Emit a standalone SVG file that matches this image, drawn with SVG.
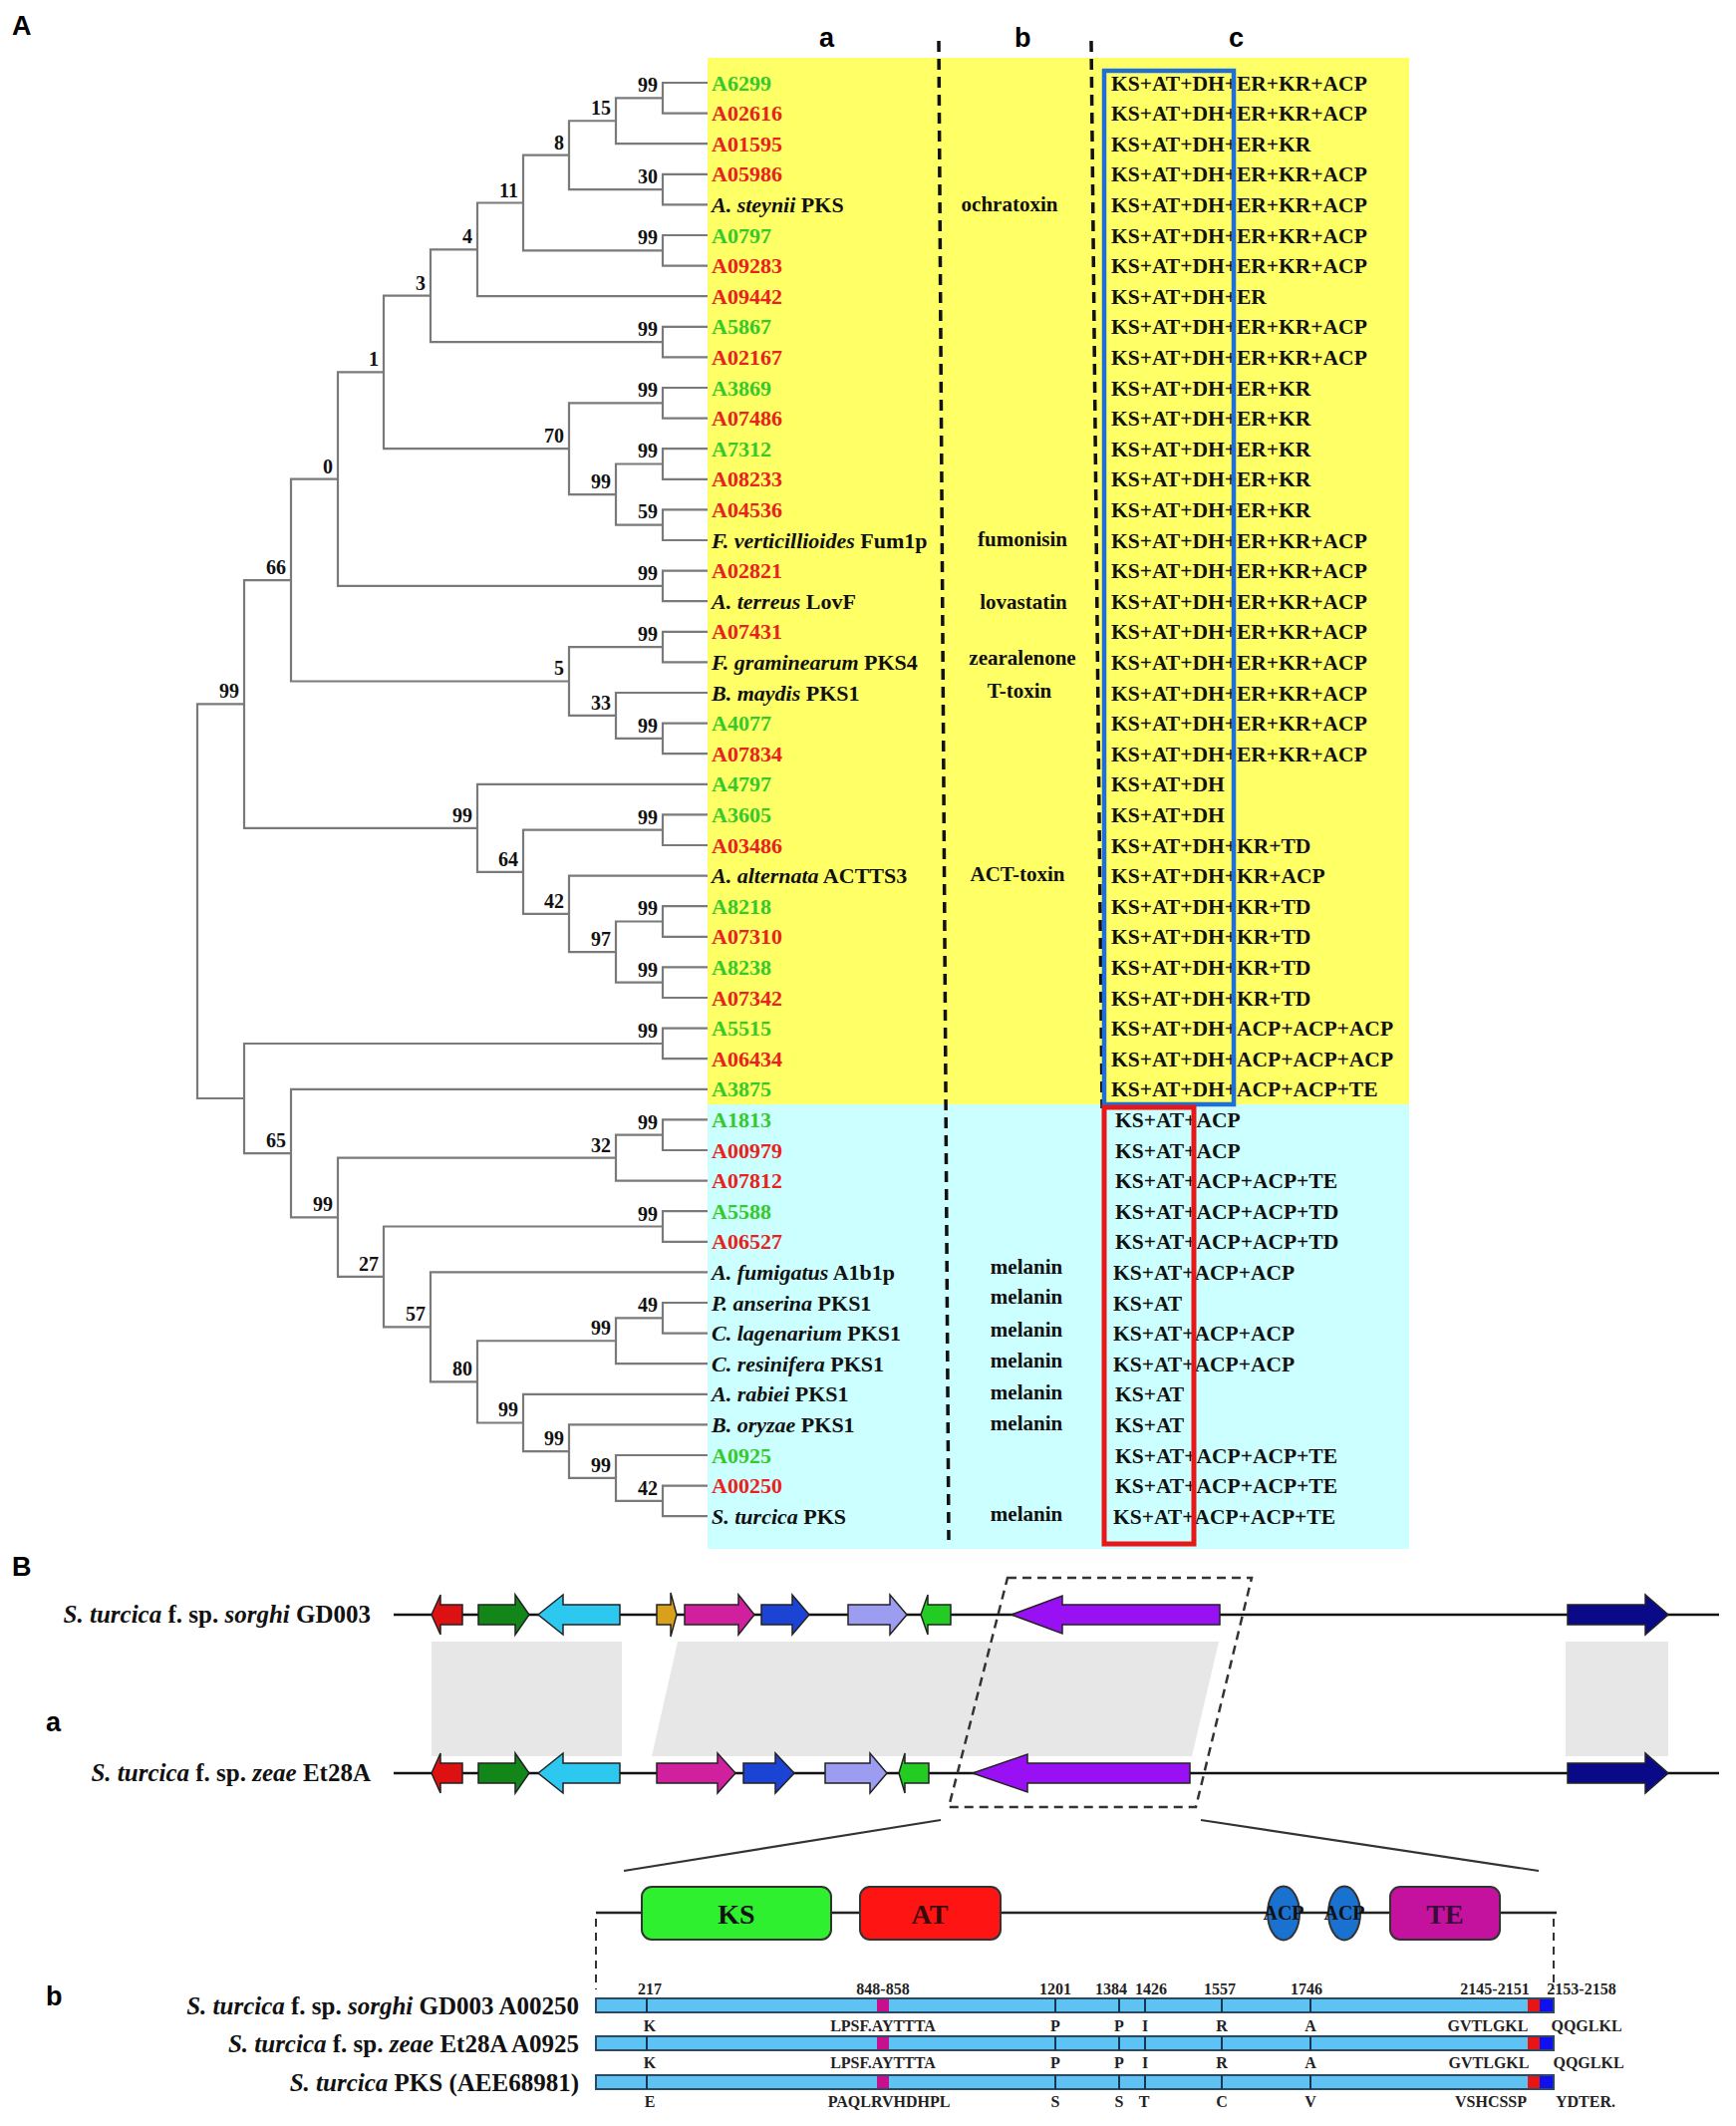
<svg xmlns="http://www.w3.org/2000/svg" width="1742" height="2133" viewBox="0 0 1742 2133">
<style>
.panel{font-family:"Liberation Sans",Arial,sans-serif;font-weight:bold;font-size:27px;fill:#000}
.tr{fill:none;stroke:#7a7a7a;stroke-width:2.2}
.bs{font-family:"Liberation Serif","Times New Roman",serif;font-weight:bold;font-size:20px;fill:#111;text-anchor:end}
.lf{font-family:"Liberation Serif","Times New Roman",serif;font-weight:bold;font-size:22px;fill:#111}
.g{fill:#36c92c}
.r{fill:#e8231d}
.cc{font-family:"Liberation Serif","Times New Roman",serif;font-weight:bold;font-size:21.5px;fill:#111}
.cb{font-family:"Liberation Serif","Times New Roman",serif;font-weight:bold;font-size:21px;fill:#111;text-anchor:middle}
.dash{stroke:#111;stroke-width:3.5;stroke-dasharray:11 7;fill:none}
.gene{stroke:#222;stroke-width:1.5}
.band{fill:#e7e7e7}
.dom{stroke:#333;stroke-width:2}
.dt{font-family:"Liberation Serif","Times New Roman",serif;font-weight:bold;font-size:28px;text-anchor:middle}
.sl{font-family:"Liberation Serif","Times New Roman",serif;font-weight:bold;font-size:25px;fill:#111;text-anchor:end}
.pn{font-family:"Liberation Serif","Times New Roman",serif;font-weight:bold;font-size:16px;fill:#222;text-anchor:middle}
.bar{fill:#5ec3f2;stroke:#2a4a66;stroke-width:2}
.tick{stroke:#1a3550;stroke-width:2}
</style>

<text class="panel" x="12" y="35">A</text>
<text class="panel" x="822" y="47">a</text>
<text class="panel" x="1018" y="47">b</text>
<text class="panel" x="1233" y="47">c</text>

<g id="backgrounds">
<rect x="710" y="58" width="704" height="1050" fill="#ffff66"/>
<rect x="710" y="1108" width="704" height="446" fill="#ccffff"/>
</g>

<g id="tree-connectors">
<path class="tr" d="M710 83 H665 V113.6 H710"/>
<path class="tr" d="M665 98.3 H618 V144.2 H710"/>
<path class="tr" d="M710 174.8 H665 V205.4 H710"/>
<path class="tr" d="M618 121.25 H571 V190.1 H665"/>
<path class="tr" d="M710 236 H665 V266.6 H710"/>
<path class="tr" d="M571 155.7 H525 V251.3 H665"/>
<path class="tr" d="M525 203.5 H479 V297.2 H710"/>
<path class="tr" d="M710 327.8 H665 V358.4 H710"/>
<path class="tr" d="M479 250.35 H432 V343.1 H665"/>
<path class="tr" d="M710 389 H665 V419.6 H710"/>
<path class="tr" d="M710 450.2 H665 V480.8 H710"/>
<path class="tr" d="M710 511.4 H665 V542 H710"/>
<path class="tr" d="M665 465.5 H618 V526.7 H665"/>
<path class="tr" d="M665 404.3 H571 V496.1 H618"/>
<path class="tr" d="M432 296.7 H385 V450.2 H571"/>
<path class="tr" d="M710 572.6 H665 V603.2 H710"/>
<path class="tr" d="M385 373.45 H339 V587.9 H665"/>
<path class="tr" d="M710 633.8 H665 V664.4 H710"/>
<path class="tr" d="M710 725.6 H665 V756.2 H710"/>
<path class="tr" d="M710 695 H618 V740.9 H665"/>
<path class="tr" d="M665 649.1 H571 V717.95 H618"/>
<path class="tr" d="M339 480.7 H292 V683.5 H571"/>
<path class="tr" d="M710 817.4 H665 V848 H710"/>
<path class="tr" d="M710 909.2 H665 V939.8 H710"/>
<path class="tr" d="M710 970.4 H665 V1001 H710"/>
<path class="tr" d="M665 924.5 H618 V985.7 H665"/>
<path class="tr" d="M710 878.6 H571 V955.1 H618"/>
<path class="tr" d="M665 832.7 H525 V916.85 H571"/>
<path class="tr" d="M710 786.8 H479 V874.8 H525"/>
<path class="tr" d="M292 582.1 H245 V830.8 H479"/>
<path class="tr" d="M710 1031.6 H665 V1062.2 H710"/>
<path class="tr" d="M710 1123.4 H665 V1154 H710"/>
<path class="tr" d="M665 1138.7 H618 V1184.6 H710"/>
<path class="tr" d="M710 1215.2 H665 V1245.8 H710"/>
<path class="tr" d="M710 1307 H665 V1337.6 H710"/>
<path class="tr" d="M665 1322.3 H618 V1368.2 H710"/>
<path class="tr" d="M710 1490.6 H665 V1521.2 H710"/>
<path class="tr" d="M710 1460 H618 V1505.9 H665"/>
<path class="tr" d="M710 1429.4 H571 V1482.95 H618"/>
<path class="tr" d="M710 1398.8 H525 V1456.2 H571"/>
<path class="tr" d="M618 1345.25 H479 V1427.5 H525"/>
<path class="tr" d="M710 1276.4 H432 V1386.4 H479"/>
<path class="tr" d="M665 1230.5 H385 V1331.4 H432"/>
<path class="tr" d="M618 1161.65 H339 V1280.95 H385"/>
<path class="tr" d="M710 1092.8 H292 V1221.3 H339"/>
<path class="tr" d="M665 1047 H245 V1157.05 H292"/>
<path class="tr" d="M245 706.45 H198 V1102 H245"/>
</g>

<g id="bootstrap">
<text class="bs" x="660" y="92">99</text>
<text class="bs" x="613" y="115">15</text>
<text class="bs" x="660" y="184">30</text>
<text class="bs" x="566" y="150">8</text>
<text class="bs" x="660" y="245">99</text>
<text class="bs" x="520" y="198">11</text>
<text class="bs" x="474" y="244">4</text>
<text class="bs" x="660" y="337">99</text>
<text class="bs" x="427" y="291">3</text>
<text class="bs" x="660" y="398">99</text>
<text class="bs" x="660" y="459">99</text>
<text class="bs" x="660" y="520">59</text>
<text class="bs" x="613" y="490">99</text>
<text class="bs" x="566" y="444">70</text>
<text class="bs" x="380" y="367">1</text>
<text class="bs" x="660" y="582">99</text>
<text class="bs" x="334" y="475">0</text>
<text class="bs" x="660" y="643">99</text>
<text class="bs" x="660" y="735">99</text>
<text class="bs" x="613" y="712">33</text>
<text class="bs" x="566" y="677">5</text>
<text class="bs" x="287" y="576">66</text>
<text class="bs" x="660" y="827">99</text>
<text class="bs" x="660" y="918">99</text>
<text class="bs" x="660" y="980">99</text>
<text class="bs" x="613" y="949">97</text>
<text class="bs" x="566" y="911">42</text>
<text class="bs" x="520" y="869">64</text>
<text class="bs" x="474" y="825">99</text>
<text class="bs" x="240" y="700">99</text>
<text class="bs" x="660" y="1041">99</text>
<text class="bs" x="660" y="1133">99</text>
<text class="bs" x="613" y="1156">32</text>
<text class="bs" x="660" y="1225">99</text>
<text class="bs" x="660" y="1316">49</text>
<text class="bs" x="613" y="1339">99</text>
<text class="bs" x="660" y="1500">42</text>
<text class="bs" x="613" y="1477">99</text>
<text class="bs" x="566" y="1450">99</text>
<text class="bs" x="520" y="1421">99</text>
<text class="bs" x="474" y="1380">80</text>
<text class="bs" x="427" y="1325">57</text>
<text class="bs" x="380" y="1275">27</text>
<text class="bs" x="334" y="1215">99</text>
<text class="bs" x="287" y="1151">65</text>
</g>

<g id="leaves" class="lf">
<text x="714" y="90.5" class="g">A6299</text>
<text x="714" y="121.1" class="r">A02616</text>
<text x="714" y="151.7" class="r">A01595</text>
<text x="714" y="182.3" class="r">A05986</text>
<text x="714" y="212.9"><tspan font-style="italic">A. steynii</tspan> PKS</text>
<text x="714" y="243.5" class="g">A0797</text>
<text x="714" y="274.1" class="r">A09283</text>
<text x="714" y="304.7" class="r">A09442</text>
<text x="714" y="335.3" class="g">A5867</text>
<text x="714" y="365.9" class="r">A02167</text>
<text x="714" y="396.5" class="g">A3869</text>
<text x="714" y="427.1" class="r">A07486</text>
<text x="714" y="457.7" class="g">A7312</text>
<text x="714" y="488.3" class="r">A08233</text>
<text x="714" y="518.9" class="r">A04536</text>
<text x="714" y="549.5"><tspan font-style="italic">F. verticillioides</tspan> Fum1p</text>
<text x="714" y="580.1" class="r">A02821</text>
<text x="714" y="610.7"><tspan font-style="italic">A. terreus</tspan> LovF</text>
<text x="714" y="641.3" class="r">A07431</text>
<text x="714" y="671.9"><tspan font-style="italic">F. graminearum</tspan> PKS4</text>
<text x="714" y="702.5"><tspan font-style="italic">B. maydis</tspan> PKS1</text>
<text x="714" y="733.1" class="g">A4077</text>
<text x="714" y="763.7" class="r">A07834</text>
<text x="714" y="794.3" class="g">A4797</text>
<text x="714" y="824.9" class="g">A3605</text>
<text x="714" y="855.5" class="r">A03486</text>
<text x="714" y="886.1"><tspan font-style="italic">A. alternata</tspan> ACTTS3</text>
<text x="714" y="916.7" class="g">A8218</text>
<text x="714" y="947.3" class="r">A07310</text>
<text x="714" y="977.9" class="g">A8238</text>
<text x="714" y="1008.5" class="r">A07342</text>
<text x="714" y="1039.1" class="g">A5515</text>
<text x="714" y="1069.7" class="r">A06434</text>
<text x="714" y="1100.3" class="g">A3875</text>
<text x="714" y="1130.9" class="g">A1813</text>
<text x="714" y="1161.5" class="r">A00979</text>
<text x="714" y="1192.1" class="r">A07812</text>
<text x="714" y="1222.7" class="g">A5588</text>
<text x="714" y="1253.3" class="r">A06527</text>
<text x="714" y="1283.9"><tspan font-style="italic">A. fumigatus</tspan> A1b1p</text>
<text x="714" y="1314.5"><tspan font-style="italic">P. anserina</tspan> PKS1</text>
<text x="714" y="1345.1"><tspan font-style="italic">C. lagenarium</tspan> PKS1</text>
<text x="714" y="1375.7"><tspan font-style="italic">C. resinifera</tspan> PKS1</text>
<text x="714" y="1406.3"><tspan font-style="italic">A. rabiei</tspan> PKS1</text>
<text x="714" y="1436.9"><tspan font-style="italic">B. oryzae</tspan> PKS1</text>
<text x="714" y="1467.5" class="g">A0925</text>
<text x="714" y="1498.1" class="r">A00250</text>
<text x="714" y="1528.7"><tspan font-style="italic">S. turcica</tspan> PKS</text>
</g>

<g id="products">
<text class="cb" x="1013" y="212">ochratoxin</text>
<text class="cb" x="1026" y="548">fumonisin</text>
<text class="cb" x="1027" y="611">lovastatin</text>
<text class="cb" x="1026" y="667">zearalenone</text>
<text class="cb" x="1023" y="700">T-toxin</text>
<text class="cb" x="1021" y="884">ACT-toxin</text>
<text class="cb" x="1030" y="1278">melanin</text>
<text class="cb" x="1030" y="1308">melanin</text>
<text class="cb" x="1030" y="1341">melanin</text>
<text class="cb" x="1030" y="1372">melanin</text>
<text class="cb" x="1030" y="1404">melanin</text>
<text class="cb" x="1030" y="1435">melanin</text>
<text class="cb" x="1030" y="1526">melanin</text>
</g>

<g id="domains" class="cc">
<text x="1115" y="90.5">KS+AT+DH+ER+KR+ACP</text>
<text x="1115" y="121.1">KS+AT+DH+ER+KR+ACP</text>
<text x="1115" y="151.7">KS+AT+DH+ER+KR</text>
<text x="1115" y="182.3">KS+AT+DH+ER+KR+ACP</text>
<text x="1115" y="212.9">KS+AT+DH+ER+KR+ACP</text>
<text x="1115" y="243.5">KS+AT+DH+ER+KR+ACP</text>
<text x="1115" y="274.1">KS+AT+DH+ER+KR+ACP</text>
<text x="1115" y="304.7">KS+AT+DH+ER</text>
<text x="1115" y="335.3">KS+AT+DH+ER+KR+ACP</text>
<text x="1115" y="365.9">KS+AT+DH+ER+KR+ACP</text>
<text x="1115" y="396.5">KS+AT+DH+ER+KR</text>
<text x="1115" y="427.1">KS+AT+DH+ER+KR</text>
<text x="1115" y="457.7">KS+AT+DH+ER+KR</text>
<text x="1115" y="488.3">KS+AT+DH+ER+KR</text>
<text x="1115" y="518.9">KS+AT+DH+ER+KR</text>
<text x="1115" y="549.5">KS+AT+DH+ER+KR+ACP</text>
<text x="1115" y="580.1">KS+AT+DH+ER+KR+ACP</text>
<text x="1115" y="610.7">KS+AT+DH+ER+KR+ACP</text>
<text x="1115" y="641.3">KS+AT+DH+ER+KR+ACP</text>
<text x="1115" y="671.9">KS+AT+DH+ER+KR+ACP</text>
<text x="1115" y="702.5">KS+AT+DH+ER+KR+ACP</text>
<text x="1115" y="733.1">KS+AT+DH+ER+KR+ACP</text>
<text x="1115" y="763.7">KS+AT+DH+ER+KR+ACP</text>
<text x="1115" y="794.3">KS+AT+DH</text>
<text x="1115" y="824.9">KS+AT+DH</text>
<text x="1115" y="855.5">KS+AT+DH+KR+TD</text>
<text x="1115" y="886.1">KS+AT+DH+KR+ACP</text>
<text x="1115" y="916.7">KS+AT+DH+KR+TD</text>
<text x="1115" y="947.3">KS+AT+DH+KR+TD</text>
<text x="1115" y="977.9">KS+AT+DH+KR+TD</text>
<text x="1115" y="1008.5">KS+AT+DH+KR+TD</text>
<text x="1115" y="1039.1">KS+AT+DH+ACP+ACP+ACP</text>
<text x="1115" y="1069.7">KS+AT+DH+ACP+ACP+ACP</text>
<text x="1115" y="1100.3">KS+AT+DH+ACP+ACP+TE</text>
<text x="1119" y="1130.9">KS+AT+ACP</text>
<text x="1119" y="1161.5">KS+AT+ACP</text>
<text x="1119" y="1192.1">KS+AT+ACP+ACP+TE</text>
<text x="1119" y="1222.7">KS+AT+ACP+ACP+TD</text>
<text x="1119" y="1253.3">KS+AT+ACP+ACP+TD</text>
<text x="1117" y="1283.9">KS+AT+ACP+ACP</text>
<text x="1117" y="1314.5">KS+AT</text>
<text x="1117" y="1345.1">KS+AT+ACP+ACP</text>
<text x="1117" y="1375.7">KS+AT+ACP+ACP</text>
<text x="1119" y="1406.3">KS+AT</text>
<text x="1119" y="1436.9">KS+AT</text>
<text x="1119" y="1467.5">KS+AT+ACP+ACP+TE</text>
<text x="1119" y="1498.1">KS+AT+ACP+ACP+TE</text>
<text x="1117" y="1528.7">KS+AT+ACP+ACP+TE</text>
</g>

<g id="column-dividers">
<line class="dash" x1="942" y1="41" x2="952" y2="1545"/>
<line class="dash" x1="1095" y1="41" x2="1106" y2="1112"/>
</g>

<g id="highlight-boxes">
<rect x="1108" y="71" width="130" height="1037" fill="none" stroke="#1f6fd6" stroke-width="4.5"/>
<rect x="1108" y="1111" width="90" height="438" fill="none" stroke="#e81818" stroke-width="5"/>
</g>

<text class="panel" x="12" y="1581">B</text>
<text class="panel" x="46" y="1737">a</text>
<text class="panel" x="46" y="2012">b</text>

<g id="synteny-bands">
<rect class="band" x="433" y="1647" width="191" height="115"/>
<polygon class="band" points="680,1647 1223,1647 1196,1762 654,1762"/>
<rect class="band" x="1571" y="1647" width="103" height="115"/>
</g>

<g id="cluster-sorghi">
<text class="sl" x="372" y="1628"><tspan font-style="italic">S. turcica</tspan> f. sp. <tspan font-style="italic">sorghi</tspan> GD003</text>
<line x1="395" y1="1620" x2="1725" y2="1620" stroke="#111" stroke-width="2.5"/>
<polygon class="gene" fill="#dd1111" points="433,1620 442,1600 442,1610 464,1610 464,1630 442,1630 442,1640"/>
<polygon class="gene" fill="#13861a" points="480,1610 517,1610 517,1600 531,1620 517,1640 517,1630 480,1630"/>
<polygon class="gene" fill="#2cc8f0" points="540,1620 565,1600 565,1610 622,1610 622,1630 565,1630 565,1640"/>
<polygon class="gene" fill="#d9a01c" points="659,1610 673,1610 673,1598 679,1620 673,1642 673,1630 659,1630"/>
<polygon class="gene" fill="#d0209e" points="687,1610 741,1610 741,1600 757,1620 741,1640 741,1630 687,1630"/>
<polygon class="gene" fill="#1c44d4" points="764,1610 795,1610 795,1600 812,1620 795,1640 795,1630 764,1630"/>
<polygon class="gene" fill="#9c9cf0" points="851,1610 893,1610 893,1600 910,1620 893,1640 893,1630 851,1630"/>
<polygon class="gene" fill="#22cc22" points="924,1620 931,1600 931,1610 954,1610 954,1630 931,1630 931,1640"/>
<polygon class="gene" fill="#9a10f5" points="1015,1620 1066,1601 1066,1610 1224,1610 1224,1630 1066,1630 1066,1639"/>
<polygon class="gene" fill="#0a0a88" points="1573,1610 1651,1610 1651,1600 1674,1620 1651,1640 1651,1630 1573,1630"/>
</g>

<g id="cluster-zeae">
<text class="sl" x="372" y="1787"><tspan font-style="italic">S. turcica</tspan> f. sp. <tspan font-style="italic">zeae</tspan> Et28A</text>
<line x1="395" y1="1779" x2="1725" y2="1779" stroke="#111" stroke-width="2.5"/>
<polygon class="gene" fill="#dd1111" points="433,1779 442,1759 442,1769 464,1769 464,1789 442,1789 442,1799"/>
<polygon class="gene" fill="#13861a" points="480,1769 517,1769 517,1759 531,1779 517,1799 517,1789 480,1789"/>
<polygon class="gene" fill="#2cc8f0" points="540,1779 565,1759 565,1769 622,1769 622,1789 565,1789 565,1799"/>
<polygon class="gene" fill="#d0209e" points="659,1769 720,1769 720,1759 738,1779 720,1799 720,1789 659,1789"/>
<polygon class="gene" fill="#1c44d4" points="746,1769 778,1769 778,1759 797,1779 778,1799 778,1789 746,1789"/>
<polygon class="gene" fill="#9c9cf0" points="828,1769 873,1769 873,1759 890,1779 873,1799 873,1789 828,1789"/>
<polygon class="gene" fill="#22cc22" points="902,1779 908,1759 908,1769 932,1769 932,1789 908,1789 908,1799"/>
<polygon class="gene" fill="#9a10f5" points="976,1779 1031,1760 1031,1769 1194,1769 1194,1789 1031,1789 1031,1798"/>
<polygon class="gene" fill="#0a0a88" points="1573,1769 1651,1769 1651,1759 1674,1779 1651,1799 1651,1789 1573,1789"/>
</g>

<g id="zoom-connectors">
<polygon points="1011,1583 1256,1583 1200,1813 952,1813" fill="none" stroke="#333" stroke-width="2.5" stroke-dasharray="9 6"/>
<line x1="944" y1="1826" x2="626" y2="1877" stroke="#333" stroke-width="2.2"/>
<line x1="1205" y1="1826" x2="1544" y2="1877" stroke="#333" stroke-width="2.2"/>
<line x1="598" y1="1925" x2="598" y2="1996" stroke="#333" stroke-width="2" stroke-dasharray="8 6"/>
<line x1="1559" y1="1925" x2="1559" y2="1996" stroke="#333" stroke-width="2" stroke-dasharray="8 6"/>
</g>

<g id="domain-architecture">
<line x1="598" y1="1919" x2="1562" y2="1919" stroke="#222" stroke-width="2.5"/>
<rect class="dom" x="644" y="1893" width="190" height="53" rx="10" fill="#2ef02e"/>
<text class="dt" x="739" y="1930" fill="#111">KS</text>
<rect class="dom" x="863" y="1893" width="141" height="53" rx="10" fill="#ff1414"/>
<text class="dt" x="933" y="1930" fill="#3a0a0a">AT</text>
<ellipse class="dom" cx="1288" cy="1919.5" rx="16" ry="27" fill="#1a72d0"/>
<text x="1288" y="1926" font-family="Liberation Serif, Times New Roman, serif" font-weight="bold" font-size="20" text-anchor="middle" fill="#111">ACP</text>
<ellipse class="dom" cx="1349" cy="1919.5" rx="16" ry="27" fill="#1a72d0"/>
<text x="1349" y="1926" font-family="Liberation Serif, Times New Roman, serif" font-weight="bold" font-size="20" text-anchor="middle" fill="#111">ACP</text>
<rect class="dom" x="1395" y="1893" width="110" height="53" rx="10" fill="#c4129e"/>
<text class="dt" x="1450" y="1930" fill="#3a0a3a">TE</text>
</g>

<g id="sequence-alignment">
<text class="pn" x="652" y="2001">217</text>
<text class="pn" x="886" y="2001">848-858</text>
<text class="pn" x="1059" y="2001">1201</text>
<text class="pn" x="1115" y="2001">1384</text>
<text class="pn" x="1155" y="2001">1426</text>
<text class="pn" x="1224" y="2001">1557</text>
<text class="pn" x="1311" y="2001">1746</text>
<text class="pn" x="1500" y="2001">2145-2151</text>
<text class="pn" x="1587" y="2001">2153-2158</text>

<text class="sl" x="581" y="2021"><tspan font-style="italic">S. turcica</tspan> f. sp. <tspan font-style="italic">sorghi</tspan> GD003 A00250</text>
<rect class="bar" x="598" y="2005" width="961" height="14"/>
<path class="tick" d="M649 2005V2019M1059 2005V2019M1123 2005V2019M1149 2005V2019M1226 2005V2019M1315 2005V2019"/>
<rect x="880" y="2006" width="12" height="12" fill="#c8108f"/>
<rect x="1533" y="2006" width="12" height="12" fill="#e81515"/>
<rect x="1545" y="2006" width="13" height="12" fill="#1010ee"/>
<text class="pn" x="652" y="2038">K</text>
<text class="pn" x="886" y="2038">LPSF.AYTTTA</text>
<text class="pn" x="1059" y="2038">P</text>
<text class="pn" x="1123" y="2038">P</text>
<text class="pn" x="1149" y="2038">I</text>
<text class="pn" x="1226" y="2038">R</text>
<text class="pn" x="1315" y="2038">A</text>
<text class="pn" x="1493" y="2038">GVTLGKL</text>
<text class="pn" x="1592" y="2038">QQGLKL</text>

<text class="sl" x="581" y="2059"><tspan font-style="italic">S. turcica</tspan> f. sp. <tspan font-style="italic">zeae</tspan> Et28A A0925</text>
<rect class="bar" x="598" y="2043" width="961" height="14"/>
<path class="tick" d="M649 2043V2057M1059 2043V2057M1123 2043V2057M1149 2043V2057M1226 2043V2057M1315 2043V2057"/>
<rect x="880" y="2044" width="12" height="12" fill="#c8108f"/>
<rect x="1533" y="2044" width="12" height="12" fill="#e81515"/>
<rect x="1545" y="2044" width="13" height="12" fill="#1010ee"/>
<text class="pn" x="652" y="2075">K</text>
<text class="pn" x="886" y="2075">LPSF.AYTTTA</text>
<text class="pn" x="1059" y="2075">P</text>
<text class="pn" x="1123" y="2075">P</text>
<text class="pn" x="1149" y="2075">I</text>
<text class="pn" x="1226" y="2075">R</text>
<text class="pn" x="1315" y="2075">A</text>
<text class="pn" x="1494" y="2075">GVTLGKL</text>
<text class="pn" x="1594" y="2075">QQGLKL</text>

<text class="sl" x="581" y="2098"><tspan font-style="italic">S. turcica</tspan> PKS (AEE68981)</text>
<rect class="bar" x="598" y="2082" width="961" height="14"/>
<path class="tick" d="M649 2082V2096M1059 2082V2096M1123 2082V2096M1149 2082V2096M1226 2082V2096M1315 2082V2096"/>
<rect x="880" y="2083" width="12" height="12" fill="#c8108f"/>
<rect x="1533" y="2083" width="12" height="12" fill="#e81515"/>
<rect x="1545" y="2083" width="13" height="12" fill="#1010ee"/>
<text class="pn" x="652" y="2114">E</text>
<text class="pn" x="892" y="2114">PAQLRVHDHPL</text>
<text class="pn" x="1059" y="2114">S</text>
<text class="pn" x="1123" y="2114">S</text>
<text class="pn" x="1148" y="2114">T</text>
<text class="pn" x="1226" y="2114">C</text>
<text class="pn" x="1315" y="2114">V</text>
<text class="pn" x="1496" y="2114">VSHCSSP</text>
<text class="pn" x="1591" y="2114">YDTER.</text>
</g>
</svg>
